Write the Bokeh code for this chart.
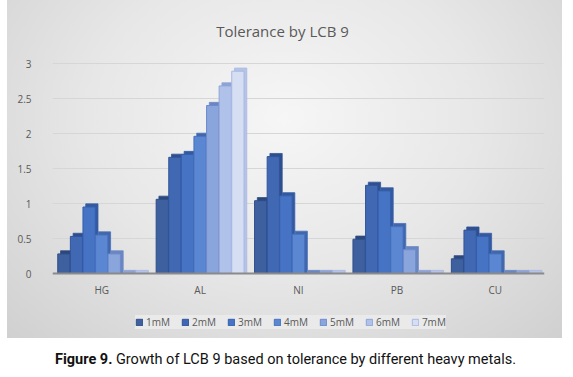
from bokeh.plotting import figure
from bokeh.models import (ColumnDataSource, FactorRange, Legend, LegendItem, Div, FixedTicker,
                          Span, Label)
from bokeh.core.properties import value
from bokeh.transform import dodge
from bokeh.layouts import column
from bokeh.embed import file_html
from bokeh.resources import INLINE

# ---- data ----
metals = ["HG", "AL", "NI", "PB", "CU"]
series = ["1mM", "2mM", "3mM", "4mM", "5mM", "6mM", "7mM"]
mM1 = [0.28, 1.06, 1.04, 0.49, 0.21]
mM2 = [0.53, 1.66, 1.67, 1.26, 0.62]
mM3 = [0.95, 1.70, 1.11, 1.18, 0.53]
mM4 = [0.55, 1.96, 0.56, 0.67, 0.28]
mM5 = [0.28, 2.40, 0.00, 0.34, 0.00]
mM6 = [0.00, 2.68, 0.00, 0.00, 0.00]
mM7 = [0.00, 2.89, 0.00, 0.00, 0.00]
y_ticks = [0, 0.5, 1, 1.5, 2, 2.5, 3]
y_tick_labels = ["0", "0.5", "1", "1.5", "2", "2.5", "3"]
title_text = "Tolerance by LCB 9"
caption_bold = "Figure 9."
caption_rest = "Growth of LCB 9 based on tolerance by different heavy metals."

values = [mM1, mM2, mM3, mM4, mM5, mM6, mM7]

# ---- styles ----
front_colors = ["#3E609F", "#4168B2", "#4673C4", "#5B86D1", "#8AA4DC", "#B0C1EA", "#D6DEF3"]
side_colors = ["#2C477A", "#2F4F8C", "#35599C", "#4266A8", "#6A86C0", "#8FA3D3", "#B5C3E6"]
edge_colors = ["#2F4E88", "#31549A", "#3560AE", "#4672BE", "#6E8CCB", "#8FA6DA", "#A9B9E2"]
FONT = "Open Sans"
GREY_TXT = "#595959"
bar_w = 0.125
step = 0.128
dx3d = 0.028
dy3d = 0.045
label_y = -0.23

data = {"metal": metals}
for i, s in enumerate(series):
    data[f"v{i}"] = values[i]
    data[f"b{i}"] = [v + dy3d for v in values[i]]
data["label_y"] = [label_y] * len(metals)
src = ColumnDataSource(data)

p = figure(x_range=FactorRange(*metals, range_padding=0), y_range=(-0.857, 3.786),
           width=555, height=338, output_backend="svg", toolbar_location=None,
           min_border_left=45, min_border_right=18, min_border_top=8, min_border_bottom=5)
p.margin = (0, 0, 0, 7)
p.border_fill_color = None
p.background_fill_color = None
p.outline_line_color = None
p.styles = {"background": "radial-gradient(ellipse at 50% 35%, #F6F6F6 0%, #E7E7E7 50%, #D0D0D0 100%)"}

# chart title
p.add_layout(Label(x=230, y=303, x_units="screen", y_units="screen", text=title_text,
                   text_align="center", text_baseline="middle", text_font=FONT,
                   text_font_size="15px", text_color=GREY_TXT))

items = []
for i, s in enumerate(series):
    off = (i - 3) * step
    p.vbar(x=dodge("metal", off + dx3d, range=p.x_range), bottom=0.0, top=f"b{i}",
           width=bar_w, source=src, fill_color=side_colors[i], line_color=edge_colors[i], line_width=0.8)
    r = p.vbar(x=dodge("metal", off, range=p.x_range), top=f"v{i}", width=bar_w, source=src,
               fill_color=front_colors[i], line_color=edge_colors[i], line_width=1)
    items.append(LegendItem(label=s, renderers=[r]))

# floor line (x axis line at zero)
p.add_layout(Span(location=0, dimension="width", line_color="#8A8A8A", line_width=2))

# category labels
p.text(x="metal", y="label_y", text="metal", source=src, text_align="center",
       text_baseline="middle", text_font=value(FONT), text_font_size="10px", text_color=GREY_TXT)

p.xaxis.visible = False
p.yaxis.ticker = FixedTicker(ticks=y_ticks)
p.yaxis.major_label_overrides = {t: l for t, l in zip(y_ticks, y_tick_labels)}
p.yaxis.axis_line_color = None
p.yaxis.major_tick_line_color = None
p.yaxis.minor_tick_line_color = None
p.yaxis.major_label_standoff = 15
p.yaxis.major_label_text_font = FONT
p.yaxis.major_label_text_font_size = "10px"
p.yaxis.major_label_text_color = GREY_TXT

p.xgrid.grid_line_color = None
p.ygrid.grid_line_color = "#D6D6D6"

legend = Legend(items=items, orientation="horizontal", location=(83, 4),
                glyph_width=8, glyph_height=8, label_standoff=3, spacing=11,
                label_text_font=FONT, label_text_font_size="10px", label_text_color=GREY_TXT,
                background_fill_color="#EAEAEA", background_fill_alpha=1,
                border_line_color=None, padding=6, margin=0)
p.add_layout(legend, "center")

cap = Div(text=f"<b>{caption_bold}</b> {caption_rest}", width=557,
          styles={"text-align": "center", "font-family": "Roboto, sans-serif",
                  "font-size": "14.5px", "color": "#111111", "width": "557px"})
cap.margin = (12, 0, 0, 7)

layout = column(p, cap)
open("out.html", "w").write(file_html(layout, INLINE))
